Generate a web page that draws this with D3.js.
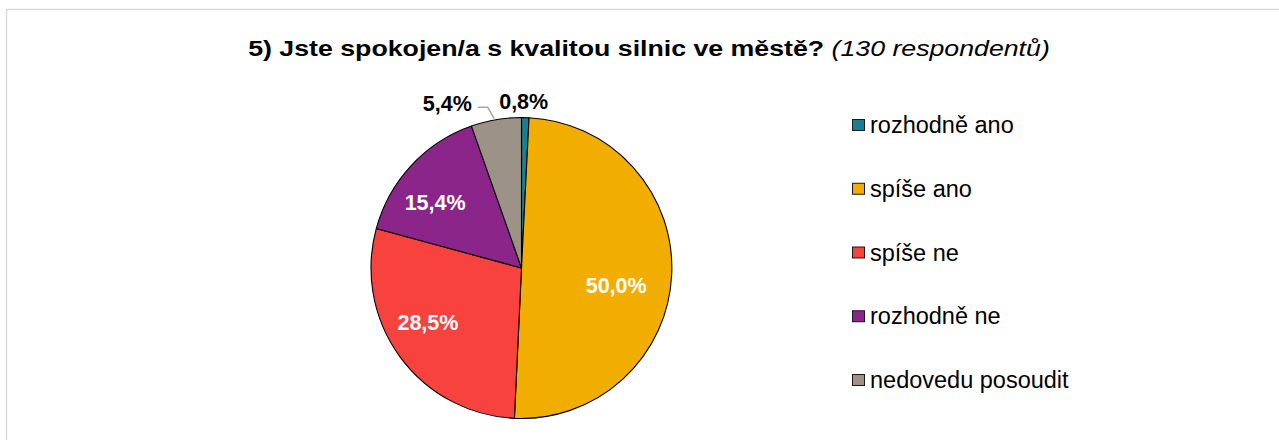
<!DOCTYPE html>
<html>
<head>
<meta charset="utf-8">
<script src="https://cdn.jsdelivr.net/npm/d3@7"></script>
<style>
  html, body { margin: 0; padding: 0; background: #fff; }
  svg { display: block; font-family: "Liberation Sans", Arial, sans-serif; }
</style>
</head>
<body>
<svg id="chart" width="1279" height="440"></svg>
<script>
// Survey answers: share of respondents (%)
const categories = ["rozhodně ano", "spíše ano", "spíše ne", "rozhodně ne", "nedovedu posoudit"];
const shares = [0.8, 50.0, 28.5, 15.4, 5.4];
const valueLabels = ["0,8%", "50,0%", "28,5%", "15,4%", "5,4%"];
const colors = ["#1B7D90", "#F2AE00", "#F7423D", "#8B2589", "#9C9287"];
const titleMain = "5) Jste spokojen/a s kvalitou silnic ve městě?";
const titleNote = " (130 respondentů)";

// Label placement: radius factor along slice bisector, nudge, inside/outside
const labelLayout = [
  { k: 1.11, dx: -2, dy: 0, inside: false },
  { k: 0.63, dx: 0, dy: 13, inside: true },
  { k: 0.72, dx: -6, dy: -9, inside: true },
  { k: 0.72, dx: -7, dy: 8, inside: true },
  { k: 1.11, dx: -46, dy: 0, inside: false, leader: true }
];

const svg = d3.select("#chart");
const W = 1279, H = 440;

// chart frame
svg.append("rect")
  .attr("x", 6.5).attr("y", 9.5)
  .attr("width", W).attr("height", H)
  .attr("fill", "none")
  .attr("stroke", "#d9d9d9")
  .attr("stroke-width", 1.5);

// title (bold question + italic respondent count), drawn a bit wide
const titleX = 649, titleWidth = 802;
const titleG = svg.append("g");
const title = titleG.append("text")
  .attr("x", 0).attr("y", 0)
  .attr("text-anchor", "middle")
  .attr("font-size", 22.5)
  .attr("fill", "#000");
title.append("tspan").attr("font-weight", "bold").text(titleMain);
title.append("tspan").attr("font-style", "italic").text(titleNote);
const natural = title.node().getComputedTextLength();
titleG.attr("transform", `translate(${titleX},56) scale(${titleWidth / natural},1)`);

// pie
const cx = 521.5, cy = 268, R = 150.5;
const g = svg.append("g").attr("transform", `translate(${cx},${cy})`);

const pie = d3.pie().sort(null).value(d => d);
const arcs = pie(shares);
const arc = d3.arc().innerRadius(0).outerRadius(R);

g.selectAll("path.slice")
  .data(arcs)
  .join("path")
  .attr("class", "slice")
  .attr("d", arc)
  .attr("fill", (d, i) => colors[i])
  .attr("stroke", "#000")
  .attr("stroke-width", 1.1)
  .attr("stroke-linejoin", "round");

// data labels
arcs.forEach((d, i) => {
  const L = labelLayout[i];
  const rr = R * L.k;
  const [px, py] = d3.arc().innerRadius(rr).outerRadius(rr).centroid(d);
  const x = px + L.dx, y = py + L.dy;
  const t = g.append("text")
    .attr("x", x).attr("y", y)
    .attr("dy", "0.35em")
    .attr("text-anchor", "middle")
    .attr("font-size", 21.5)
    .attr("font-weight", "bold")
    .attr("fill", L.inside ? "#fff" : "#000")
    .text(valueLabels[i]);
  if (L.leader) {
    const bb = t.node().getBBox();
    const [ex, ey] = d3.arc().innerRadius(R).outerRadius(R).centroid(d);
    const sx = bb.x + bb.width + 6, sy = y + 4;
    g.append("path")
      .attr("d", d3.line()([[sx, sy], [sx + 10, sy], [ex - 2, ey - 1]]))
      .attr("fill", "none")
      .attr("stroke", "#a6a6a6")
      .attr("stroke-width", 1.5);
  }
});

// legend
const legend = svg.append("g").attr("transform", "translate(852,0)");
const rowY = d3.scalePoint().domain(categories).range([125, 380]);
const rows = legend.selectAll("g.row")
  .data(categories)
  .join("g")
  .attr("class", "row")
  .attr("transform", d => `translate(0,${rowY(d)})`);
rows.append("rect")
  .attr("x", 0.5).attr("y", -5.5)
  .attr("width", 12).attr("height", 11)
  .attr("fill", (d, i) => colors[i])
  .attr("stroke", "#1a1a1a")
  .attr("stroke-width", 1);
rows.append("text")
  .attr("x", 18).attr("y", 0)
  .attr("dy", "0.35em")
  .attr("font-size", 23.5)
  .attr("fill", "#000")
  .text(d => d);
</script>
</body>
</html>
